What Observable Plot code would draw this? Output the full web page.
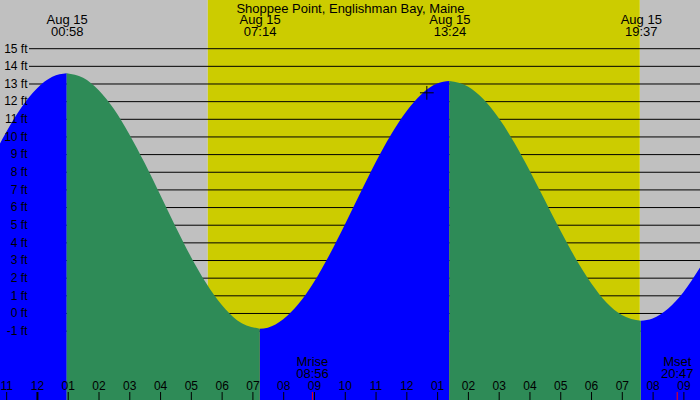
<!DOCTYPE html>
<html><head><meta charset="utf-8">
<script src="https://cdn.jsdelivr.net/npm/d3@7"></script>
<script src="https://cdn.jsdelivr.net/npm/@observablehq/plot@0.6"></script>
<style>html,body{margin:0;padding:0;background:#fff}#chart svg{display:block}</style>
</head><body><div id="chart"></div>
<script>
// ---- data ----
const title = "Shoppee Point, Englishman Bay, Maine";
const eventDate = "Aug 15";
const eventTimes = ["00:58", "07:14", "13:24", "19:37"];
const eventKinds = ["high", "low", "high", "low"];
const sunTimes = ["05:33", "19:35"];          // sunrise, sunset
const moonNames = ["Mrise", "Mset"];
const moonTimes = ["08:56", "20:47"];
const transitTime = "12:39";
const transitFeet = 12.5;
const feetLevels = [-1, 0, 1, 2, 3, 4, 5, 6, 7, 8, 9, 10, 11, 12, 13, 14, 15];
const feetLabels = feetLevels.map(v => `${v} ft`);
const hourTicks = [-1, 0, 1, 2, 3, 4, 5, 6, 7, 8, 9, 10, 11, 12, 13, 14, 15, 16, 17, 18, 19, 20, 21];
const hourLabels = ["11", "12", "01", "02", "03", "04", "05", "06", "07", "08", "09", "10", "11",
                    "12", "01", "02", "03", "04", "05", "06", "07", "08", "09"];
// water level readings (hours after midnight Aug 15, feet)
const tideHours = [-1.2, -1, -0.5, 0, 0.5, 0.9667, 1.5, 2, 2.5, 3, 3.5, 4, 4.5, 5, 5.5, 6, 6.5, 7.2333,
                   7.5, 8, 8.5, 9, 9.5, 10, 10.5, 11, 11.5, 12, 12.5, 13, 13.4,
                   14, 14.5, 15, 15.5, 16, 16.5, 17, 17.5, 18, 18.5, 19, 19.6167,
                   20, 20.5, 21, 21.6];
const tideFeet = [9.60, 10.24, 11.65, 12.72, 13.38, 13.58, 13.32, 12.63, 11.55, 10.13, 8.49, 6.71, 4.90, 3.19, 1.68, 0.46, -0.41, -0.89,
                  -0.83, -0.36, 0.52, 1.76, 3.29, 5.00, 6.78, 8.52, 10.10, 11.42, 12.41, 13.00, 13.14,
                  12.83, 12.12, 11.04, 9.67, 8.08, 6.38, 4.68, 3.09, 1.70, 0.60, -0.11, -0.44,
                  -0.31, 0.24, 1.18, 2.74];

// ---- derived tables ----
const toH = s => { const [h, m] = s.split(":").map(Number); return h + m / 60; };
const eventHours = eventTimes.map(toH);
const moonHours = moonTimes.map(toH);
const [sunrise, sunset] = sunTimes.map(toH);
const X0 = -1.2, X1 = 21.54, Y0 = -4.93, Y1 = 17.73;

const bounds = [-Infinity, ...eventHours, Infinity];
const tide = [];
for (let s = 0; s < bounds.length - 1; s++) {
  const rising = s < eventKinds.length ? eventKinds[s] === "high" : eventKinds[eventKinds.length - 1] === "low";
  tideHours.forEach((h, i) => {
    if (h >= bounds[s] - 0.01 && h <= bounds[s + 1] + 0.01) tide.push({seg: s, rising, h, ft: tideFeet[i]});
  });
}
const nights = [{a: X0, b: sunrise}, {a: sunset, b: X1}];
const days = [{a: sunrise, b: sunset}];
const events = eventHours.map((h, i) => ({h, label: `${eventDate}\n${eventTimes[i]}`}));
const moons = moonHours.map((h, i) => ({h, label: `${moonNames[i]}\n${moonTimes[i]}`}));
const transit = [{h: toH(transitTime), ft: transitFeet}];

const chart = Plot.plot({
  width: 700, height: 400, margin: 0,
  x: {domain: [X0, X1], axis: null},
  y: {domain: [Y0, Y1], axis: null},
  style: {fontFamily: "'Liberation Sans', Arial, sans-serif", background: "transparent", overflow: "hidden"},
  marks: [
    Plot.rect(nights, {x1: "a", x2: "b", fill: "#c0c0c0"}),
    Plot.rect(days, {x1: "a", x2: "b", fill: "#cccc00"}),
    Plot.ruleY(feetLevels, {y: d => d, stroke: "black", insetLeft: 29}),
    Plot.areaY(tide.filter(d => d.rising), {x: "h", y1: Y0, y2: "ft", z: "seg", fill: "#0000ff", curve: "monotone-x", clip: true}),
    Plot.areaY(tide.filter(d => !d.rising), {x: "h", y1: Y0, y2: "ft", z: "seg", fill: "#2e8b57", curve: "monotone-x", clip: true}),
    Plot.text(feetLevels, {y: d => d, text: (d, i) => feetLabels[i], frameAnchor: "left", textAnchor: "end", dx: 27, fontSize: 12, fill: "black"}),
    Plot.ruleX(hourTicks.filter(h => h % 24 !== 0), {x: d => d, stroke: "black", insetTop: 392}),
    Plot.ruleX(hourTicks.filter(h => h % 24 === 0), {x: d => d, stroke: "black", strokeWidth: 2, insetTop: 392}),
    Plot.ruleX(moonHours, {x: d => d, stroke: "red", insetTop: 392}),
    Plot.text(hourTicks, {x: d => d, text: (d, i) => hourLabels[i], frameAnchor: "bottom", lineAnchor: "top", dy: -19, fontSize: 12, fill: "black"}),
    Plot.text(events, {x: "h", text: "label", frameAnchor: "top", lineAnchor: "top", dy: 15, fontSize: 13, lineHeight: 0.9, fill: "black"}),
    Plot.text(moons, {x: "h", text: "label", frameAnchor: "bottom", lineAnchor: "top", dy: -42.7, fontSize: 13, lineHeight: 0.92, fill: "black"}),
    Plot.text([title], {text: d => d, frameAnchor: "top", lineAnchor: "top", dy: 3.3, fontSize: 13, fill: "black"}),
    Plot.dot(transit, {x: "h", y: "ft", symbol: "plus", r: 4.5, stroke: "black", strokeWidth: 1})
  ]
});
document.getElementById("chart").append(chart);
</script>
</body></html>
